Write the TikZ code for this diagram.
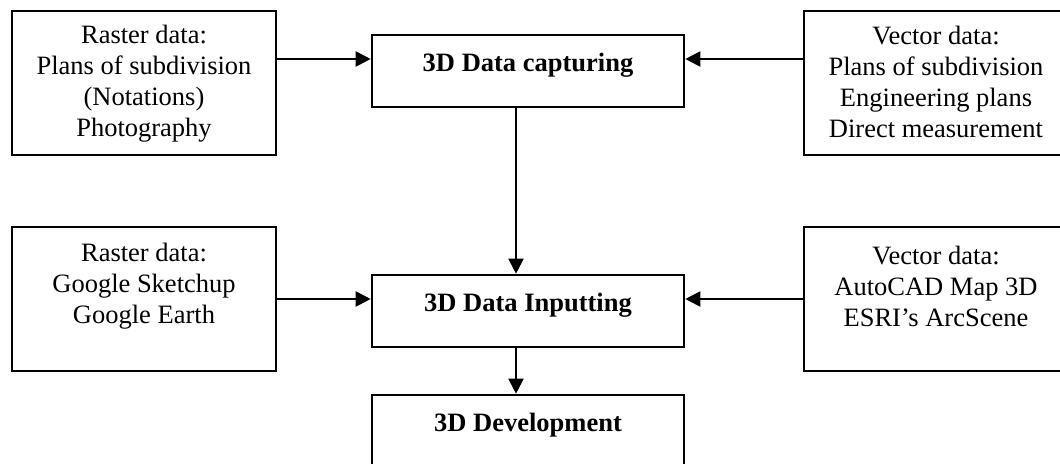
\documentclass[tikz,border=0pt]{standalone}
\usepackage{fontspec}
\setmainfont{Liberation Serif}
\usetikzlibrary{arrows.meta}

\tikzset{
  box/.style={draw, line width=1.3pt, minimum width=132pt, minimum height=72pt, inner sep=0pt},
  stagebox/.style={box, minimum width=156pt, minimum height=36pt},
  txt/.style={align=center, inner sep=0pt, font=\fontsize{13.25}{15.5}\selectfont},
  arr/.style={line width=1pt, -{Triangle[length=7.5pt,width=7.5pt]}}
}

\begin{document}
\begin{tikzpicture}[x=0.5pt,y=0.5pt,yscale=-1,xscale=1]
\useasboundingbox (0,0) rectangle (1060,464);

%Boxes
\node [box] (rasterA) at (144,83) {};
\node [box] (vectorA) at (936,83) {};
\node [stagebox] (capture) at (528,71) {};
\node [box] (rasterB) at (144,299) {};
\node [box] (vectorB) at (936,299) {};
\node [stagebox] (inputting) at (528,311) {};
\node [stagebox] (develop) at (528,431) {};

% Text Node
\node [txt] (rasterAtxt) at (144,84) {Raster data:\\Plans of subdivision\\(Notations)\\Photography};
% Text Node
\node [txt] (vectorAtxt) at (936,82) {Vector data:\\Plans of subdivision\\Engineering plans\\Direct measurement};
% Text Node
\node [txt] (capturetxt) at (528,65) {\bfseries 3D Data capturing};
% Text Node
\node [txt] (rasterBtxt) at (144,286) {Raster data:\\Google Sketchup\\Google Earth};
% Text Node
\node [txt] (vectorBtxt) at (936,286) {Vector data:\\AutoCAD Map 3D\\ESRI’s ArcScene};
% Text Node
\node [txt] (inputtingtxt) at (528,305) {\bfseries 3D Data Inputting};
% Text Node
\node [txt] (developtxt) at (528,425) {\bfseries 3D Development};

%Arrow ends
\coordinate (capin) at ([yshift=-6pt]capture.west);
\coordinate (capout) at ([yshift=-6pt]capture.east);
\coordinate (inpin) at ([yshift=-6pt]inputting.west);
\coordinate (inpout) at ([yshift=-6pt]inputting.east);

%Arrows
\draw [arr] (rasterA.east |- capin) -- (capin);
\draw [arr] (vectorA.west |- capout) -- (capout);
\draw [arr] ([xshift=-6pt]capture.south) -- ([xshift=-6pt]inputting.north);
\draw [arr] (rasterB.east |- inpin) -- (inpin);
\draw [arr] (vectorB.west |- inpout) -- (inpout);
\draw [arr] ([xshift=-6pt]inputting.south) -- ([xshift=-6pt]develop.north);

\end{tikzpicture}
\end{document}
